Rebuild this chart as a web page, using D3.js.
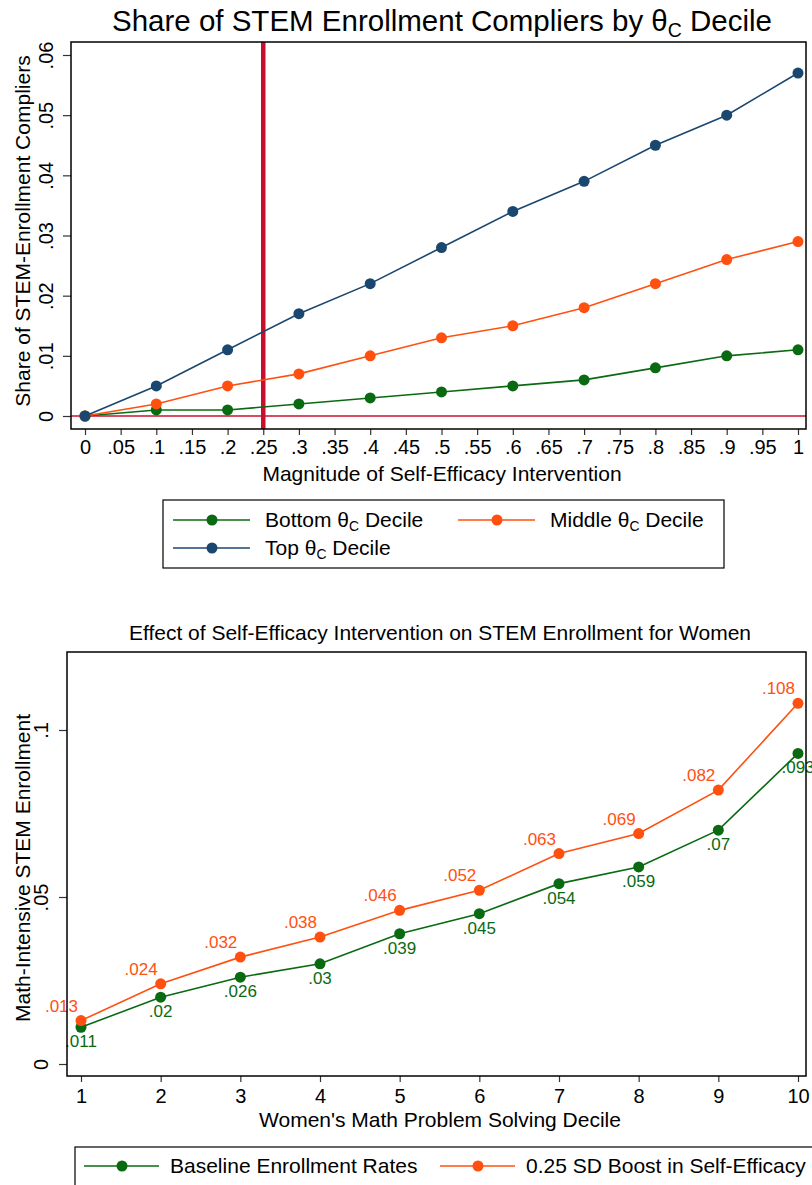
<!DOCTYPE html>
<html>
<head>
<meta charset="utf-8">
<script src="https://cdn.jsdelivr.net/npm/d3@7"></script>
<style>
  body { margin: 0; background: #fff; }
  svg { display: block; font-family: "Liberation Sans", Arial, sans-serif; }
</style>
</head>
<body>
<svg id="chart" width="812" height="1185"></svg>
<script>
// ---- Panel 1: compliers by theta_C decile ----
const magnitude = [0, 0.1, 0.2, 0.3, 0.4, 0.5, 0.6, 0.7, 0.8, 0.9, 1.0];
const bottomDecile = [0, 0.001, 0.001, 0.002, 0.003, 0.004, 0.005, 0.006, 0.008, 0.010, 0.011];
const middleDecile = [0, 0.002, 0.005, 0.007, 0.010, 0.013, 0.015, 0.018, 0.022, 0.026, 0.029];
const topDecile    = [0, 0.005, 0.011, 0.017, 0.022, 0.028, 0.034, 0.039, 0.045, 0.050, 0.057];
const xTicks1 = [0, .05, .1, .15, .2, .25, .3, .35, .4, .45, .5, .55, .6, .65, .7, .75, .8, .85, .9, .95, 1];
const yTicks1 = [0, .01, .02, .03, .04, .05, .06];
const cutoff = 0.25;

// ---- Panel 2: enrollment by math decile ----
const deciles = [1, 2, 3, 4, 5, 6, 7, 8, 9, 10];
const baseline = [0.011, 0.020, 0.026, 0.030, 0.039, 0.045, 0.054, 0.059, 0.070, 0.093];
const boosted  = [0.013, 0.024, 0.032, 0.038, 0.046, 0.052, 0.063, 0.069, 0.082, 0.108];
const yTicks2 = [0, .05, .1];

const GREEN = "#0a6a12", ORANGE = "#ff5010", NAVY = "#1a476f", RED = "#c8102e";
const TICK = "#333";
const FS = 20;      // tick label size
const FT = 21;      // axis titles / legend
const fmt = v => v === 0 ? "0" : String(+v.toFixed(3)).replace(/^0\./, ".");

const svg = d3.select("#chart");

function theta(sel, pre, post, size) {
  // writes "pre θ_C post" with subscript C
  sel.append("tspan").text(pre + "θ");
  sel.append("tspan").attr("font-size", size * 0.66).attr("dy", size * 0.2).text("C");
  sel.append("tspan").attr("dy", -size * 0.2).text(post);
}

function styleAxis(ax) {
  ax.select(".domain").remove();
  ax.selectAll("line").attr("stroke", TICK).attr("stroke-width", 1.2);
  ax.selectAll("text").attr("font-size", FS)
    .attr("font-family", "Liberation Sans, Arial, sans-serif").attr("fill", "#000");
}

// ================= Panel 1 =================
{
  const L = 71, R = 806, T = 42, B = 429;
  const x = d3.scaleLinear().domain([0, 1]).range([85, 798]);
  const y = d3.scaleLinear().domain([0, 0.06]).range([416, 55]);
  const g = svg.append("g");

  const title = g.append("text").attr("x", 442).attr("y", 31).attr("text-anchor", "middle")
    .attr("font-size", 29.5).attr("fill", "#000");
  theta(title, "Share of STEM Enrollment Compliers by ", " Decile", 29.5);

  // x axis
  const xa = g.append("g").attr("transform", `translate(0,${B})`)
    .call(d3.axisBottom(x).tickValues(xTicks1).tickFormat(fmt).tickSize(6).tickPadding(5));
  styleAxis(xa);

  // y axis with labels turned vertical
  const ya = g.append("g").attr("transform", `translate(${L},0)`)
    .call(d3.axisLeft(y).tickValues(yTicks1).tickFormat(fmt).tickSize(8));
  styleAxis(ya);
  ya.selectAll("text").attr("x", null).attr("dy", "0").attr("text-anchor", "middle")
    .attr("transform", "translate(-18,0) rotate(-90)");

  g.append("text").attr("transform", `translate(30,231) rotate(-90)`)
    .attr("text-anchor", "middle").attr("font-size", FT).text("Share of STEM-Enrollment Compliers");
  g.append("text").attr("x", 442).attr("y", 481).attr("text-anchor", "middle")
    .attr("font-size", FT).text("Magnitude of Self-Efficacy Intervention");

  // reference lines
  g.append("line").attr("x1", L).attr("x2", R).attr("y1", y(0)).attr("y2", y(0))
    .attr("stroke", RED).attr("stroke-width", 1.5);
  g.append("line").attr("x1", x(cutoff)).attr("x2", x(cutoff)).attr("y1", T).attr("y2", B)
    .attr("stroke", RED).attr("stroke-width", 4.5);

  const series = [
    { vals: bottomDecile, color: GREEN },
    { vals: middleDecile, color: ORANGE },
    { vals: topDecile, color: NAVY }
  ];
  const line = d3.line().x((d, i) => x(magnitude[i])).y(d => y(d));
  series.forEach(s => {
    g.append("path").attr("d", line(s.vals)).attr("fill", "none")
      .attr("stroke", s.color).attr("stroke-width", 1.6);
    g.selectAll(null).data(s.vals).join("circle")
      .attr("cx", (d, i) => x(magnitude[i])).attr("cy", d => y(d)).attr("r", 5.5).attr("fill", s.color);
  });

  g.append("rect").attr("x", L).attr("y", T).attr("width", R - L).attr("height", B - T)
    .attr("fill", "none").attr("stroke", "#000").attr("stroke-width", 1.5);

  // legend
  g.append("rect").attr("x", 163).attr("y", 500).attr("width", 561).attr("height", 68)
    .attr("fill", "#fff").attr("stroke", "#000").attr("stroke-width", 1.2);
  const leg = [
    { x: 173, y: 520, color: GREEN, label: "Bottom " },
    { x: 458, y: 520, color: ORANGE, label: "Middle " },
    { x: 173, y: 548, color: NAVY, label: "Top " }
  ];
  leg.forEach(e => {
    g.append("line").attr("x1", e.x).attr("x2", e.x + 77).attr("y1", e.y).attr("y2", e.y)
      .attr("stroke", e.color).attr("stroke-width", 1.6);
    g.append("circle").attr("cx", e.x + 39).attr("cy", e.y).attr("r", 5.5).attr("fill", e.color);
    const t = g.append("text").attr("x", e.x + 92).attr("y", e.y + 7).attr("font-size", FT);
    theta(t, e.label, " Decile", FT);
  });
}

// ================= Panel 2 =================
{
  const L = 67, R = 806, T = 652, B = 1076;
  const x = d3.scaleLinear().domain([1, 10]).range([81, 798]);
  const y = d3.scaleLinear().domain([0, 0.1]).range([1064, 730]);
  const g = svg.append("g");

  g.append("text").attr("x", 440).attr("y", 640).attr("text-anchor", "middle")
    .attr("font-size", 21).text("Effect of Self-Efficacy Intervention on STEM Enrollment for Women");

  const xa = g.append("g").attr("transform", `translate(0,${B})`)
    .call(d3.axisBottom(x).tickValues(deciles).tickFormat(d3.format("d")).tickSize(6).tickPadding(7));
  styleAxis(xa);

  const ya = g.append("g").attr("transform", `translate(${L},0)`)
    .call(d3.axisLeft(y).tickValues(yTicks2).tickFormat(fmt).tickSize(8));
  styleAxis(ya);
  ya.selectAll("text").attr("x", null).attr("dy", "0").attr("text-anchor", "middle")
    .attr("transform", "translate(-19,0) rotate(-90)");

  g.append("text").attr("transform", `translate(30,868) rotate(-90)`)
    .attr("text-anchor", "middle").attr("font-size", FT).text("Math-Intensive STEM Enrollment");
  g.append("text").attr("x", 440).attr("y", 1127).attr("text-anchor", "middle")
    .attr("font-size", FT).text("Women's Math Problem Solving Decile");

  const line = d3.line().x((d, i) => x(deciles[i])).y(d => y(d));
  [{ vals: baseline, color: GREEN, dx: 0, dy: 20, anchor: "middle" },
   { vals: boosted, color: ORANGE, dx: -3, dy: -9, anchor: "end" }].forEach(s => {
    g.append("path").attr("d", line(s.vals)).attr("fill", "none")
      .attr("stroke", s.color).attr("stroke-width", 1.6);
    g.selectAll(null).data(s.vals).join("circle")
      .attr("cx", (d, i) => x(deciles[i])).attr("cy", d => y(d)).attr("r", 5.5).attr("fill", s.color);
    g.selectAll(null).data(s.vals).join("text")
      .attr("x", (d, i) => x(deciles[i]) + s.dx).attr("y", d => y(d) + s.dy)
      .attr("text-anchor", s.anchor).attr("font-size", 17).attr("fill", s.color).text(fmt);
  });

  g.append("rect").attr("x", L).attr("y", T).attr("width", R - L).attr("height", B - T)
    .attr("fill", "none").attr("stroke", "#000").attr("stroke-width", 1.5);

  g.append("rect").attr("x", 75).attr("y", 1147).attr("width", 760).attr("height", 50)
    .attr("fill", "#fff").attr("stroke", "#000").attr("stroke-width", 1.2);
  [{ x: 84, color: GREEN, label: "Baseline Enrollment Rates" },
   { x: 440, color: ORANGE, label: "0.25 SD Boost in Self-Efficacy" }].forEach(e => {
    g.append("line").attr("x1", e.x).attr("x2", e.x + 75).attr("y1", 1166).attr("y2", 1166)
      .attr("stroke", e.color).attr("stroke-width", 1.6);
    g.append("circle").attr("cx", e.x + 38).attr("cy", 1166).attr("r", 5.5).attr("fill", e.color);
    g.append("text").attr("x", e.x + 86).attr("y", 1173).attr("font-size", FT).text(e.label);
  });
}
</script>
</body>
</html>
